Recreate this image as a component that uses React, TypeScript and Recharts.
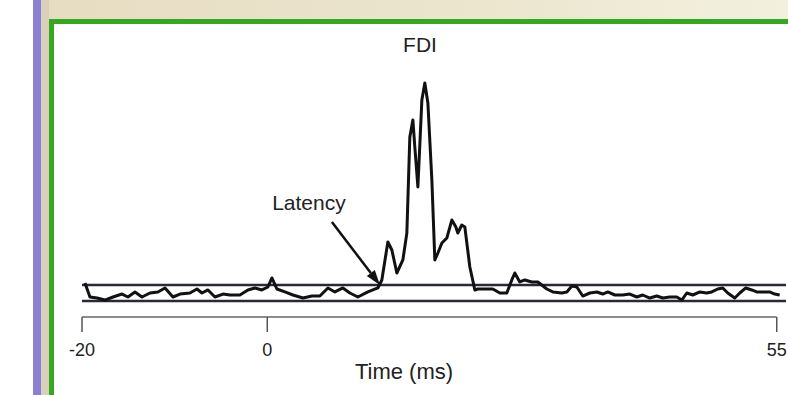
import { LineChart, Line, XAxis, YAxis, ReferenceLine } from "recharts";

// FDI EMG trace, time in ms, amplitude in baseline SD units
const timeMs = [
  -19.68, -19.14, -18.38, -17.52, -16.65, -15.68, -15.04, -14.28, -13.53, -12.66,
  -11.8, -11.04, -10.18, -9.42, -8.35, -7.59, -7.05, -6.4, -5.65, -4.78,
  -4.03, -2.95, -2.09, -1.33, -0.58, 0.07, 0.5, 1.04, 1.91, 2.77,
  3.85, 4.82, 5.68, 6.55, 7.3, 8.16, 8.92, 9.78, 10.86, 11.94,
  12.37, 13.02, 13.45, 13.99, 14.64, 15.07, 15.39, 15.72, 15.93, 16.26,
  16.69, 17.01, 17.34, 17.77, 18.09, 18.42, 18.85, 19.39, 19.93, 20.36,
  20.57, 21.0, 21.33, 21.87, 22.41, 22.73, 23.7, 24.35, 25.11, 25.86,
  26.4, 26.72, 27.26, 27.8, 28.56, 29.21, 30.18, 30.83, 31.8, 32.34,
  32.88, 33.42, 34.06, 34.82, 35.58, 36.22, 36.76, 37.52, 38.38, 39.14,
  39.89, 40.54, 41.29, 42.05, 42.7, 43.45, 44.21, 44.75, 45.29, 45.94,
  46.7, 47.44, 47.98, 48.63, 49.17, 49.71, 50.47, 51.01, 51.66, 52.3,
  52.84, 53.49, 54.24, 54.78, 55.32,
];
const emg = [
  1.25, -0.5, -0.63, -0.88, -0.5, -0.13, -0.5, 0.13, -0.5, 0,
  0.13, 0.63, -0.5, -0.13, 0, 0.5, 0, 0.38, -0.5, -0.13,
  -0.25, -0.25, 0.38, 0.63, 0.38, 0.75, 1.88, 0.5, 0.13, -0.25,
  -0.63, -0.38, -0.38, 0.63, 0.13, 0.63, 0, -0.5, 0.13, 0.63,
  1.63, 6.38, 5.38, 2.5, 4.13, 7.5, 19.5, 21.63, 18.25, 13.25,
  24.13, 26.25, 23.75, 14.13, 4.13, 5, 6.25, 6.88, 9.13, 8.25,
  7.5, 8.5, 8.25, 3.25, 0.38, 0.5, 0.5, 0.5, 0, 0,
  1.63, 2.5, 1.38, 1.63, 1.38, 1.38, 0.5, 0.13, 0, 0.13,
  0.88, 0.75, -0.38, 0, 0.13, -0.13, 0.13, -0.25, -0.25, -0.13,
  -0.5, -0.25, -0.63, -0.38, -0.63, -0.5, -0.5, -0.88, 0, -0.25,
  0.13, 0, 0.13, 0.5, 0.63, 0, -0.63, 0, 0.63, 0.38,
  0.13, 0.13, 0.13, -0.13, -0.25,
];
const xTicks = [-20, 0, 55];
const thresholds = [1, -1];
const latencyArrow = { from: { t: 6.98, v: 8.88 }, to: { t: 12.16, v: 1 } };

const data = timeMs.map((t, i) => ({ t, v: emg[i] }));

const FONT = '"Liberation Sans", Arial, sans-serif';

function TimeTick({ x, y, payload }: any) {
  return (
    <g>
      <line x1={x} x2={x} y1={y} y2={y + 15} stroke="#555" strokeWidth={1.5} />
      <text x={x} y={y + 39} textAnchor="middle" fontSize={18} fill="#222" fontFamily={FONT}>
        {payload.value}
      </text>
    </g>
  );
}

function Arrow(props: any) {
  const { x1, y1, x2, y2 } = props;
  const ang = Math.atan2(y2 - y1, x2 - x1);
  const len = 15;
  const w = 5;
  const bx = x2 - len * Math.cos(ang);
  const by = y2 - len * Math.sin(ang);
  const px = -Math.sin(ang) * w;
  const py = Math.cos(ang) * w;
  return (
    <g>
      <line x1={x1} y1={y1} x2={bx} y2={by} stroke="#111" strokeWidth={2.5} />
      <polygon points={`${x2},${y2} ${bx + px},${by + py} ${bx - px},${by - py}`} fill="#111" />
      <text x={x1 - 23} y={y1 - 12} textAnchor="middle" fontSize={21} fill="#222" fontFamily={FONT}>
        Latency
      </text>
    </g>
  );
}

export default function App() {
  return (
    <div
      style={{
        position: "absolute",
        left: 0,
        top: 0,
        width: 788,
        height: 395,
        overflow: "hidden",
        background: "#fff",
        fontFamily: FONT,
      }}
    >
      {/* window chrome around the plot */}
      <div style={{ position: "absolute", left: 41, top: 0, width: 760, height: 19, background: "linear-gradient(90deg, #e6dcc2, #ece6cf 60%, #f3f1df)" }} />
      <div style={{ position: "absolute", left: 41, top: 0, width: 8, height: 395, background: "#d9d0b9" }} />
      <div style={{ position: "absolute", left: 33, top: 0, width: 8, height: 395, background: "#8b80d2" }} />
      <div
        style={{
          position: "absolute",
          left: 49,
          top: 19,
          width: 800,
          height: 400,
          border: "5px solid #35a822",
          boxSizing: "border-box",
          background: "#fff",
        }}
      />
      <div style={{ position: "absolute", left: 0, top: 0 }}>
        <LineChart width={788} height={395} data={data} margin={{ top: 61, right: 2, bottom: 0, left: 82 }}>
          <XAxis
            dataKey="t"
            type="number"
            domain={[-20, 56]}
            ticks={xTicks}
            interval={0}
            axisLine={false}
            tickLine={false}
            tickSize={0}
            tickMargin={0}
            height={78}
            tick={<TimeTick />}
          />
          <YAxis type="number" domain={[-3, 29]} hide />
          {thresholds.map((v) => (
            <ReferenceLine key={v} y={v} stroke="#2b2935" strokeWidth={2.5} />
          ))}
          <ReferenceLine
            segment={[{ x: -20, y: -3 }, { x: 55, y: -3 }]}
            stroke="#666"
            strokeWidth={1.5}
            ifOverflow="visible"
          />
          <ReferenceLine
            segment={[
              { x: latencyArrow.from.t, y: latencyArrow.from.v },
              { x: latencyArrow.to.t, y: latencyArrow.to.v },
            ]}
            ifOverflow="visible"
            shape={(p: any) => <Arrow {...p} />}
          />
          <Line
            type="linear"
            dataKey="v"
            stroke="#111"
            strokeWidth={3}
            strokeLinejoin="round"
            dot={false}
            isAnimationActive={false}
          />
        </LineChart>
      </div>
      <div style={{ position: "absolute", left: 387, top: 33, width: 66, textAlign: "center", fontSize: 21, color: "#222" }}>
        FDI
      </div>
      <div style={{ position: "absolute", left: 334, top: 359, width: 140, textAlign: "center", fontSize: 22, color: "#222" }}>
        Time (ms)
      </div>
    </div>
  );
}
